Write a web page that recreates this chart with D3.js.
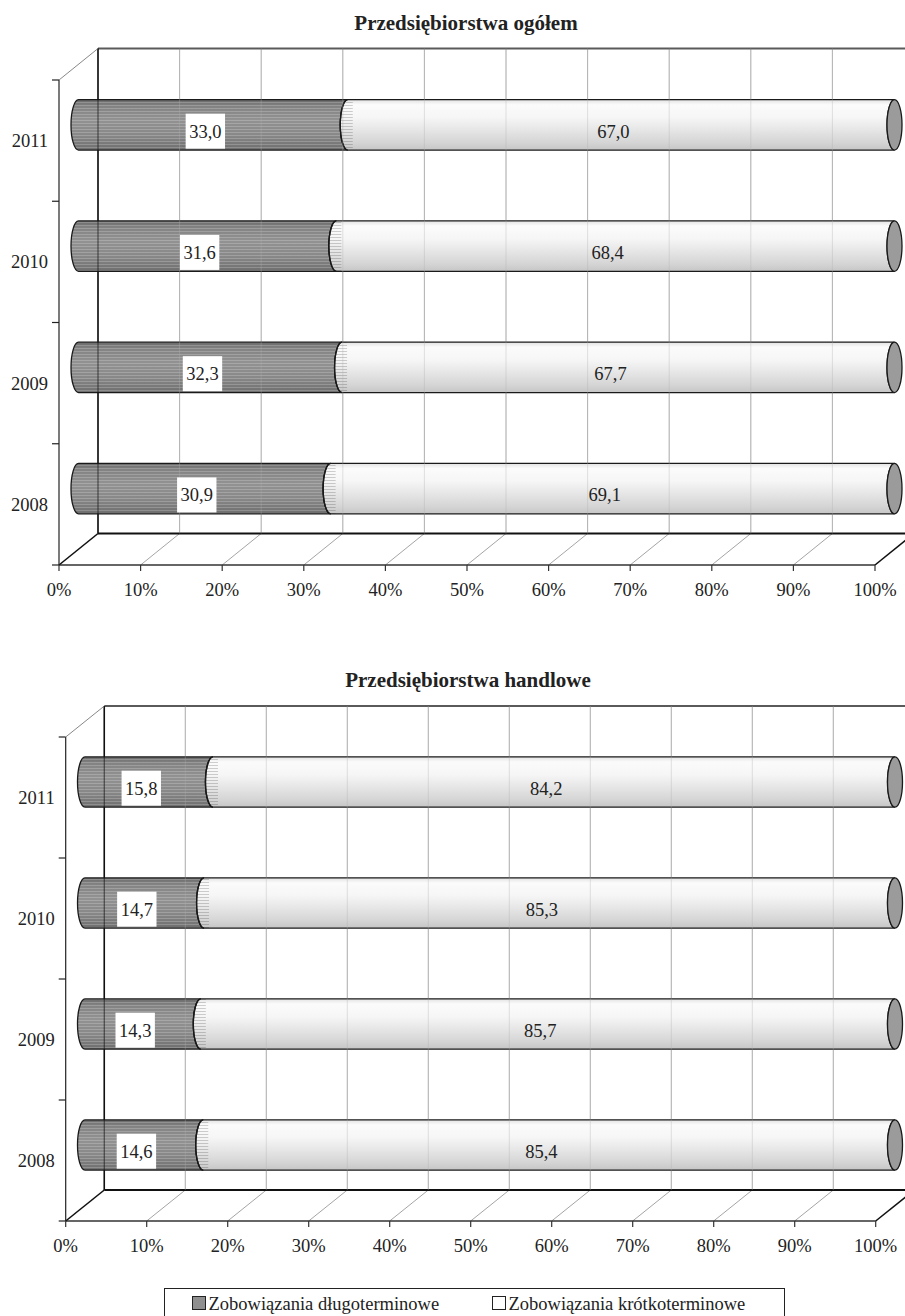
<!DOCTYPE html>
<html><head><meta charset="utf-8">
<script src="https://cdn.jsdelivr.net/npm/d3@7"></script>
<style>body{margin:0;background:#fff} svg{display:block}</style>
</head><body><svg id="c" width="905" height="1316"></svg>
<script>
// ---- data ----
const years = ["2008", "2009", "2010", "2011"];
const seriesNames = ["Zobowiązania długoterminowe", "Zobowiązania krótkoterminowe"];
const chartTitles = ["Przedsiębiorstwa ogółem", "Przedsiębiorstwa handlowe"];
const ogolemLong = [30.9, 32.3, 31.6, 33.0];
const ogolemShort = [69.1, 67.7, 68.4, 67.0];
const handloweLong = [14.6, 14.3, 14.7, 15.8];
const handloweShort = [85.4, 85.7, 85.3, 84.2];
const tickValues = [0, 10, 20, 30, 40, 50, 60, 70, 80, 90, 100];
const tickLabels = ["0%", "10%", "20%", "30%", "40%", "50%", "60%", "70%", "80%", "90%", "100%"];

// ---- layout (not data) ----
const layouts = [
  {x0: 59, x1: 875, top: 80, floor: 565, dx: 39, dy: -31.5, titleX: 466, titleY: 30, long: ogolemLong, short: ogolemShort},
  {x0: 65.7, x1: 875.7, top: 737, floor: 1221, dx: 38.6, dy: -31, titleX: 468, titleY: 687, long: handloweLong, short: handloweShort}
];
const FONT = "'Liberation Serif','Times New Roman',serif";
const fmt = v => v.toFixed(1).replace(".", ",");

const svg = d3.select("#c");
const defs = svg.append("defs");
function grad(id, stops) {
  const g = defs.append("linearGradient").attr("id", id).attr("x1", 0).attr("y1", 0).attr("x2", 0).attr("y2", 1);
  stops.forEach(s => g.append("stop").attr("offset", s[0]).attr("stop-color", s[1]));
}
grad("gDark", [[0, "#6a6a6a"], [0.12, "#828282"], [0.4, "#929292"], [0.7, "#888888"], [1, "#6e6e6e"]]);
grad("gLight", [[0, "#e2e2e2"], [0.1, "#fbfbfb"], [0.35, "#f6f6f6"], [0.6, "#e6e6e6"], [0.85, "#d5d5d5"], [1, "#c6c6c6"]]);
const pat = defs.append("pattern").attr("id", "stripes").attr("width", 6).attr("height", 3).attr("patternUnits", "userSpaceOnUse");
pat.append("rect").attr("width", 6).attr("height", 1).attr("fill", "rgba(255,255,255,0.2)");
const pat2 = defs.append("pattern").attr("id", "stripes2").attr("width", 6).attr("height", 3).attr("patternUnits", "userSpaceOnUse");
pat2.append("rect").attr("width", 6).attr("height", 1).attr("fill", "rgba(0,0,0,0.18)");

function segPath(xa, xb, yt, yb, rx) {
  const ry = (yb - yt) / 2;
  return `M${xa},${yt}L${xb},${yt}A${rx},${ry} 0 0 0 ${xb},${yb}L${xa},${yb}A${rx},${ry} 0 0 1 ${xa},${yt}Z`;
}

layouts.forEach((L, ci) => {
  const g = svg.append("g");
  const x = d3.scaleLinear().domain([0, 100]).range([L.x0, L.x1]);
  const y = d3.scaleBand().domain(years.slice().reverse()).range([L.top, L.floor]);
  const bw = y.bandwidth();
  const barH = bw * 0.415;
  const {dx, dy} = L;

  // title
  g.append("text").attr("x", L.titleX).attr("y", L.titleY).attr("text-anchor", "middle")
    .attr("font-family", FONT).attr("font-weight", "bold").attr("font-size", 21).attr("fill", "#222")
    .text(chartTitles[ci]);

  // back wall gridlines
  g.selectAll(".bg").data(tickValues.slice(1)).join("line")
    .attr("x1", d => x(d) + dx).attr("x2", d => x(d) + dx)
    .attr("y1", L.top + dy).attr("y2", L.floor + dy)
    .attr("stroke", "#b4b4b4").attr("stroke-width", 1);
  // back wall top
  g.append("line").attr("x1", x(0) + dx).attr("x2", x(100) + dx).attr("y1", L.top + dy).attr("y2", L.top + dy)
    .attr("stroke", "#5a5a5a").attr("stroke-width", 2);
  // floor gridlines
  g.selectAll(".fg").data(tickValues.slice(1, -1)).join("line")
    .attr("x1", d => x(d)).attr("x2", d => x(d) + dx)
    .attr("y1", L.floor).attr("y2", L.floor + dy)
    .attr("stroke", "#9a9a9a").attr("stroke-width", 0.9);
  // floor edges
  g.append("line").attr("x1", x(0) + dx).attr("x2", x(100) + dx).attr("y1", L.floor + dy).attr("y2", L.floor + dy)
    .attr("stroke", "#111").attr("stroke-width", 2);
  g.append("line").attr("x1", x(0)).attr("x2", x(100)).attr("y1", L.floor).attr("y2", L.floor)
    .attr("stroke", "#333").attr("stroke-width", 1.3);
  [0, 100].forEach(v => g.append("line").attr("x1", x(v)).attr("x2", x(v) + dx).attr("y1", L.floor).attr("y2", L.floor + dy)
    .attr("stroke", "#111").attr("stroke-width", 1.6));
  // back-left wall edge
  g.append("line").attr("x1", x(0) + dx).attr("x2", x(0) + dx).attr("y1", L.top + dy).attr("y2", L.floor + dy)
    .attr("stroke", "#111").attr("stroke-width", 1.5);
  // front left axis
  g.append("line").attr("x1", x(0)).attr("x2", x(0)).attr("y1", L.top).attr("y2", L.floor)
    .attr("stroke", "#222").attr("stroke-width", 1.2);
  g.append("line").attr("x1", x(0)).attr("x2", x(0) + dx).attr("y1", L.top).attr("y2", L.top + dy)
    .attr("stroke", "#888").attr("stroke-width", 1);
  // left ticks (category boundaries)
  const bounds = years.map(yy => y(yy)).concat([L.floor]);
  g.selectAll(".lt").data(bounds).join("line")
    .attr("x1", x(0) - 7).attr("x2", x(0)).attr("y1", d => d).attr("y2", d => d)
    .attr("stroke", "#222").attr("stroke-width", 1.2);
  // bottom ticks
  g.selectAll(".bt").data(tickValues).join("line")
    .attr("x1", d => x(d)).attr("x2", d => x(d)).attr("y1", L.floor).attr("y2", L.floor + 6)
    .attr("stroke", "#333").attr("stroke-width", 1.2);

  // bars
  const rx = 7.5;
  years.forEach((yy, i) => {
    const cy = y(yy) + bw / 2 + dy / 2;
    const yt = cy - barH / 2, yb = cy + barH / 2;
    const xs = [0, L.long[i], 100].map(v => x(v) + dx / 2);
    const p1 = segPath(xs[0], xs[1], yt, yb, rx);
    g.append("path").attr("d", p1).attr("fill", "url(#gDark)");
    g.append("path").attr("d", p1).attr("fill", "url(#stripes)").attr("stroke", "#1a1a1a").attr("stroke-width", 1.3);
    const p2 = segPath(xs[1], xs[2], yt, yb, rx);
    g.append("path").attr("d", p2).attr("fill", "url(#gLight)").attr("stroke", "#1a1a1a").attr("stroke-width", 1.3);
    const ry = barH / 2;
    g.append("path").attr("d", `M${xs[1]},${yt}L${xs[1] + 5},${yt}L${xs[1] + 5},${yb}L${xs[1]},${yb}A${rx},${ry} 0 0 1 ${xs[1]},${yt}Z`)
      .attr("fill", "url(#stripes2)");
    g.append("path").attr("d", `M${xs[1]},${yt}A${rx},${ry} 0 0 0 ${xs[1]},${yb}`)
      .attr("fill", "none").attr("stroke", "#1a1a1a").attr("stroke-width", 1.3);
    g.append("ellipse").attr("cx", xs[2]).attr("cy", cy).attr("rx", rx).attr("ry", barH / 2)
      .attr("fill", "#9b9b9b").attr("stroke", "#1a1a1a").attr("stroke-width", 1.3);
  });

  // gridlines faintly visible through bars
  g.selectAll(".og").data(tickValues.slice(1, -1)).join("line")
    .attr("x1", d => x(d) + dx).attr("x2", d => x(d) + dx)
    .attr("y1", L.top + dy).attr("y2", L.floor + dy)
    .attr("stroke", "#b0b0b0").attr("stroke-width", 1).attr("opacity", 0.35);
  g.append("line").attr("x1", x(0) + dx).attr("x2", x(0) + dx).attr("y1", L.top + dy).attr("y2", L.floor + dy)
    .attr("stroke", "#111").attr("stroke-width", 1.3).attr("opacity", 0.55);

  // value labels
  years.forEach((yy, i) => {
    const cy = y(yy) + bw / 2 + dy / 2 - dy * 0.2;
    const segs = [[0, L.long[i], L.long[i], true], [L.long[i], 100, L.short[i], false]];
    segs.forEach(([a, b, v, boxed]) => {
      const cx = (x(a) + x(b)) / 2 + dx / 2 - dx * 0.2;
      const t = g.append("text").attr("x", cx).attr("y", cy).attr("dy", "0.35em").attr("text-anchor", "middle")
        .attr("font-family", FONT).attr("font-size", 18.5).attr("fill", "#222").text(fmt(v));
      if (boxed) {
        const bb = t.node().getBBox();
        g.insert("rect", () => t.node()).attr("x", bb.x - 3.5).attr("y", cy - 17.5).attr("width", bb.width + 7).attr("height", 35)
          .attr("fill", "#fff");
      }
    });
  });

  // year labels
  g.selectAll(".yl").data(years).join("text")
    .attr("x", x(0) - 11).attr("y", d => y(d) + bw / 2).attr("dy", "0.35em").attr("text-anchor", "end")
    .attr("font-family", FONT).attr("font-size", 18.5).attr("fill", "#222").text(d => d);
  // x tick labels
  g.selectAll(".xl").data(tickValues).join("text")
    .attr("x", d => x(d)).attr("y", L.floor + 31).attr("text-anchor", "middle")
    .attr("font-family", FONT).attr("font-size", 18.5).attr("fill", "#222").text((d, i) => tickLabels[i]);
});

// legend
const lg = svg.append("g");
lg.append("rect").attr("x", 164.5).attr("y", 1288.5).attr("width", 620).attr("height", 40)
  .attr("fill", "#fff").attr("stroke", "#222").attr("stroke-width", 1);
const legendFills = ["#8f8f8f", "#ffffff"];
const legendX = [192.5, 492.5];
seriesNames.forEach((n, i) => {
  lg.append("rect").attr("x", legendX[i]).attr("y", 1296.5).attr("width", 13).attr("height", 13)
    .attr("fill", legendFills[i]).attr("stroke", "#222").attr("stroke-width", 1);
  lg.append("text").attr("x", legendX[i] + 16).attr("y", 1310).attr("font-family", FONT).attr("font-size", 18.5)
    .attr("fill", "#222").text(n);
});
</script></body></html>
